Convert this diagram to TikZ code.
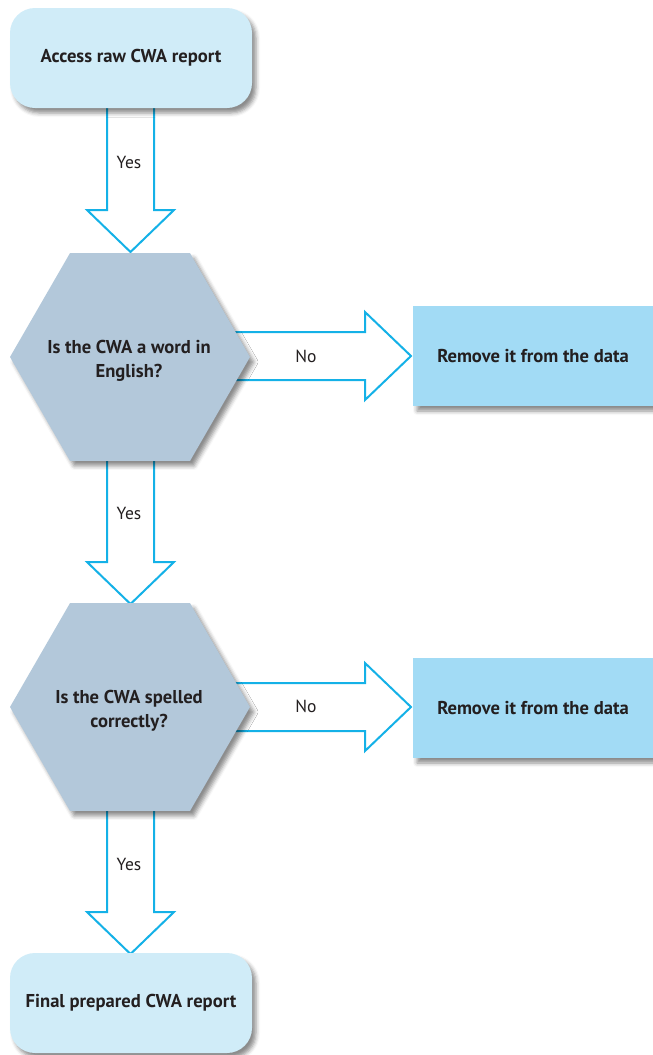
\documentclass[tikz,border=0pt]{standalone}
\usepackage{fontspec}
\setmainfont{PT Sans}
\usetikzlibrary{shapes.geometric,shadows.blur,calc}
\definecolor{termfill}{HTML}{D0ECF8}
\definecolor{hexfill}{HTML}{B3C8DA}
\definecolor{nofill}{HTML}{A2DBF5}
\definecolor{arrowcol}{HTML}{14B1E7}
\definecolor{txt}{HTML}{231F20}
\tikzset{
  shad/.style={blur shadow={shadow xshift=4pt,shadow yshift=-5pt,shadow blur radius=4pt,shadow opacity=45}},
  boxtext/.style={font=\fontsize{18.6}{23.5}\selectfont\bfseries,text=txt,align=center},
  termbox/.style={shad,fill=termfill,rounded corners=25pt,minimum width=242pt,minimum height=100pt,inner sep=0pt,boxtext},
  hexbox/.style={shad,fill=hexfill,regular polygon,regular polygon sides=6,minimum size=240pt,inner sep=0pt,outer sep=0pt},
  nobox/.style={shad,fill=nofill,minimum width=240pt,minimum height=100pt,inner sep=0pt,boxtext},
  fatarrow/.style={draw=arrowcol,line width=2pt,fill=white,line join=miter},
  lbl/.style={font=\fontsize{17.5}{20}\selectfont,text=txt}
}
\begin{document}
\begin{tikzpicture}[x=1pt,y=-1pt]
\useasboundingbox (0,0) rectangle (653,1055);
% arrows first (so shapes cover their back ends)
\coordinate (d1top) at (130.5,100);
\coordinate (d1tip) at (130.5,252);
\coordinate (d2top) at (130.5,450);
\coordinate (d2tip) at (130.5,604);
\coordinate (d3top) at (130.5,800);
\coordinate (d3tip) at (130.5,954);
\coordinate (r1start) at (225,356);
\coordinate (r1tip) at (411,356);
\coordinate (r2start) at (225,707);
\coordinate (r2tip) at (411,707);
\foreach \t/\p in {d1top/d1tip,d2top/d2tip,d3top/d3tip}{
  \draw[fatarrow] ($(\t)+(-23.5,0)$) -- ($(\p)+(-23.5,-42)$) -- ($(\p)+(-43.5,-42)$) -- (\p)
     -- ($(\p)+(43.5,-42)$) -- ($(\p)+(23.5,-42)$) -- ($(\t)+(23.5,0)$);
}
\foreach \s/\p in {r1start/r1tip,r2start/r2tip}{
  \draw[fatarrow] ($(\s)+(0,-24)$) -- ($(\p)+(-46,-24)$) -- ($(\p)+(-46,-44)$) -- (\p)
     -- ($(\p)+(-46,44)$) -- ($(\p)+(-46,24)$) -- ($(\s)+(0,24)$);
}
\node[termbox] (start) at (131,58) {Access raw CWA report};
\node[hexbox] (q1) at (130,357) {};
\node[boxtext] (q1t) at (129,361) {Is the CWA a word in\\English?};
\node[nobox] (no1) at (533,356) {Remove it from the data};
\node[hexbox] (q2) at (130,707) {};
\node[boxtext] (q2t) at (129,711) {Is the CWA spelled\\correctly?};
\node[nobox] (no2) at (533,708) {Remove it from the data};
\node[termbox] (end) at (131,1003) {Final prepared CWA report};
\node[lbl] (y1) at (129,162) {Yes};
\node[lbl] (y2) at (129,513) {Yes};
\node[lbl] (y3) at (129,864) {Yes};
\node[lbl] (n1) at (306,356) {No};
\node[lbl] (n2) at (306,706) {No};
\end{tikzpicture}
\end{document}
